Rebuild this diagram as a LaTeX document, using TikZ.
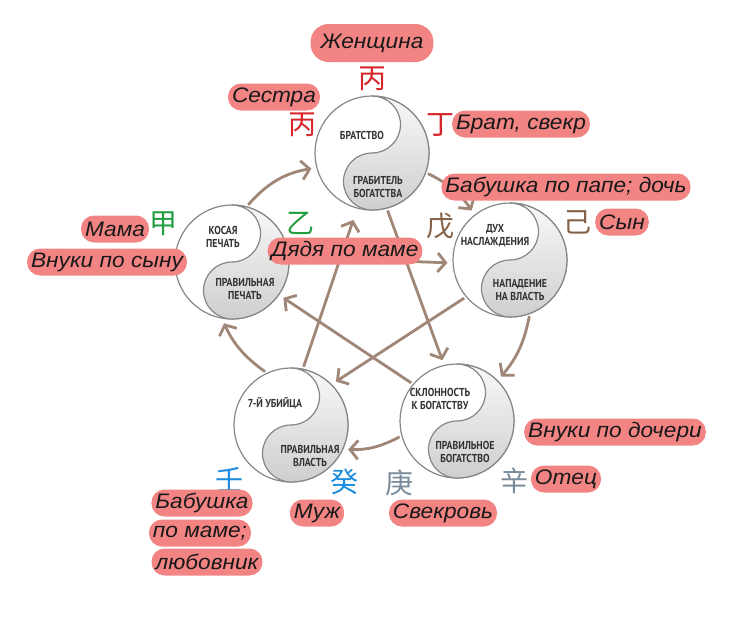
\documentclass[tikz,border=0pt]{standalone}
\usepackage{fontspec}
\usepackage{tikz}
\usetikzlibrary{arrows.meta}
\setmainfont{Liberation Sans}
\newfontfamily\kinFont[FakeStretch=1.08]{Liberation Sans Italic}
\newfontfamily\roleFont[FakeStretch=0.85]{PT Sans}
\newfontfamily\cjkFont{Noto Sans CJK SC}
\definecolor{pillColor}{RGB}{243,132,132}
\definecolor{arrowColor}{RGB}{160,134,118}
\definecolor{edgeColor}{RGB}{135,135,135}
\definecolor{roleColor}{RGB}{50,50,50}
\definecolor{fireColor}{RGB}{214,38,44}
\definecolor{woodColor}{RGB}{34,158,64}
\definecolor{earthColor}{RGB}{132,96,70}
\definecolor{waterColor}{RGB}{28,140,222}
\definecolor{metalColor}{RGB}{120,140,156}
\tikzstyle{chart} = [x = 1pt, y = -1pt]
\tikzstyle{sphereStyle} = [circle, draw=edgeColor, line width=1.2pt, fill=white, minimum size=114pt, inner sep=0pt]
\tikzstyle{yinStyle} = [top color=gray!5, bottom color=gray!38, draw=edgeColor, line width=1.2pt]
\tikzstyle{roleText} = [font=\roleFont\bfseries\fontsize{11.5}{13}\selectfont, text=roleColor, align=center, inner sep=0pt]
\tikzstyle{kinLabel} = [fill=pillColor, rounded corners=13pt, minimum height=27pt, inner xsep=4pt, inner ysep=0pt, font=\kinFont\fontsize{21}{21}\selectfont, text=black!90]
\tikzstyle{stemText} = [font=\cjkFont\fontsize{28}{28}\selectfont, inner sep=0pt]
\tikzstyle{flowArrow} = [draw=arrowColor, line width=2.8pt, -{Straight Barb[length=8pt,width=19pt]}, shorten >=5pt, shorten <=2pt]
\newcommand{\radius}{57}
\newcommand{\element}[9]{
  \node [sphereStyle] (#1) at (#2,#3) {};
  \filldraw [yinStyle] (#2,#3 - \radius) arc [start angle=-90, end angle=90, radius=\radius]
    arc [start angle=90, end angle=270, radius=\radius/2]
    arc [start angle=90, end angle=-90, radius=\radius/2] -- cycle;
  \node [roleText] (#1Up) at (#2 + #4, #3 + #5) {#6};
  \node [roleText] (#1Down) at (#2 + #7, #3 + #8) {#9};
}
\newcommand{\kin}[4]{\node [kinLabel] (#1) at (#2,#3) {#4};}
\newcommand{\stem}[5]{\node [stemText, text=#4] (#1) at (#2,#3) {#5};}

\begin{document}
\begin{tikzpicture}[chart]
  \useasboundingbox (0,0) rectangle (740,630);
  \element{brat}{372}{153}{-10}{-18}{БРАТСТВО}{6}{34}{ГРАБИТЕЛЬ\\БОГАТСТВА}
  \element{pech}{232}{262}{-9}{-25}{КОСАЯ\\ПЕЧАТЬ}{13}{27}{ПРАВИЛЬНАЯ\\ПЕЧАТЬ}
  \element{dukh}{510}{260}{-15}{-24}{ДУХ\\НАСЛАЖДЕНИЯ}{10}{30}{НАПАДЕНИЕ\\НА ВЛАСТЬ}
  \element{vlast}{291}{425}{-16}{-22}{7-Й УБИЙЦА}{19}{31}{ПРАВИЛЬНАЯ\\ВЛАСТЬ}
  \element{bogat}{457}{421}{-17}{-22}{СКЛОННОСТЬ\\К БОГАТСТВУ}{8}{31}{ПРАВИЛЬНОЕ\\БОГАТСТВО}

  \draw [flowArrow] (pech.75) to [bend left=20] (brat.195);
  \draw [flowArrow] (brat.-20) to [bend left=15] (dukh.128);
  \draw [flowArrow] (dukh.-70) to [bend left=15] (bogat.45);
  \draw [flowArrow] (bogat.195) to [bend left=15] (vlast.-25);
  \draw [flowArrow] (vlast.115) to [bend left=15] (pech.-100);

  \draw [flowArrow] (pech.5) -- (dukh.183);
  \draw [flowArrow] (brat.-75) -- (bogat.103);
  \draw [flowArrow] (dukh.-140) -- (vlast.45);
  \draw [flowArrow] (bogat.140) -- (pech.-35);
  \draw [flowArrow, shorten >=12pt] (vlast.78) -- (brat.-105);

  \stem{bingTop}{372}{79}{fireColor}{丙}
  \stem{bingLeft}{302}{125}{fireColor}{丙}
  \stem{ding}{440}{125}{fireColor}{丁}
  \stem{jia}{163}{224}{woodColor}{甲}
  \stem{yi}{300}{223}{woodColor}{乙}
  \stem{wu}{440}{226}{earthColor}{戊}
  \stem{ji}{577}{222}{earthColor}{己}
  \stem{ren}{229}{480}{waterColor}{壬}
  \stem{gui}{344}{482}{waterColor}{癸}
  \stem{geng}{399}{483}{metalColor}{庚}
  \stem{xin}{514}{481}{metalColor}{辛}

  \node [kinLabel, minimum height=38pt, rounded corners=18pt, inner xsep=10pt] (woman) at (372,43) {Женщина};
  \kin{sister}{274}{97}{Сестра}
  \kin{brother}{521}{124}{Брат, свекр}
  \kin{grandPa}{566}{187}{Бабушка по папе; дочь}
  \kin{son}{622}{222}{Сын}
  \kin{mother}{115}{229}{Мама}
  \kin{sonKids}{107}{262}{Внуки по сыну}
  \kin{uncle}{345}{251}{Дядя по маме}
  \kin{daughterKids}{615}{432}{Внуки по дочери}
  \kin{father}{566}{479}{Отец}
  \kin{husband}{317}{513}{Муж}
  \kin{motherInLaw}{443}{513}{Свекровь}
  \kin{grandMa}{202}{503}{Бабушка}
  \kin{byMother}{200}{533}{по маме;}
  \kin{lover}{207}{562}{любовник}
\end{tikzpicture}
\end{document}
